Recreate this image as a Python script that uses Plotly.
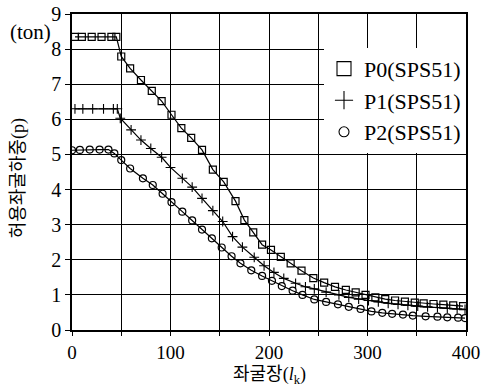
import plotly.graph_objects as go

# ---- data ----
p0_x = [3, 10, 20, 30, 40, 45, 50, 59, 70, 81, 91, 101, 111, 121, 132, 143, 154, 166, 175, 184, 193, 202,
        212, 222, 233, 245, 256, 267, 278, 288, 298, 308, 318, 328, 338, 348, 357, 367, 377, 387, 397]
p0_y = [8.35, 8.35, 8.35, 8.35, 8.35, 8.35, 7.79, 7.45, 7.12, 6.81, 6.52, 6.13, 5.75, 5.47, 5.13, 4.57,
        4.22, 3.67, 3.13, 2.78, 2.43, 2.28, 2.08, 1.90, 1.69, 1.48, 1.35, 1.23, 1.14, 1.07, 1.00, 0.93,
        0.88, 0.84, 0.81, 0.78, 0.76, 0.74, 0.72, 0.70, 0.68]

p1_x = [3, 11, 21, 32, 42, 46, 49, 60, 70, 80, 91, 100, 112, 122, 132, 143, 153, 163, 173, 185, 195, 205,
        215, 227, 237, 246, 258, 271, 281, 291, 301, 311, 321, 331, 341, 351, 361, 371, 381, 391, 399]
p1_y = [6.30, 6.30, 6.30, 6.30, 6.30, 6.30, 6.03, 5.70, 5.41, 5.17, 4.92, 4.63, 4.32, 4.07, 3.75, 3.40,
        3.09, 2.66, 2.36, 2.07, 1.83, 1.64, 1.47, 1.33, 1.23, 1.17, 1.08, 1.00, 0.93, 0.88, 0.84, 0.80,
        0.76, 0.73, 0.70, 0.68, 0.66, 0.64, 0.62, 0.60, 0.59]

p2_x = [0, 8, 18, 28, 37, 43, 50, 59, 72, 82, 92, 101, 112, 122, 132, 142, 152, 162, 171, 182, 193, 203,
        213, 224, 234, 246, 258, 270, 281, 293, 304, 315, 325, 336, 346, 359, 371, 381, 392, 399]
p2_y = [5.12, 5.13, 5.14, 5.14, 5.14, 5.03, 4.84, 4.60, 4.32, 4.13, 3.88, 3.64, 3.37, 3.12, 2.86, 2.61,
        2.35, 2.10, 1.90, 1.70, 1.54, 1.40, 1.25, 1.12, 1.00, 0.87, 0.80, 0.73, 0.66, 0.60, 0.53, 0.49,
        0.46, 0.44, 0.41, 0.39, 0.38, 0.36, 0.35, 0.34]

series_names = ["P0(SPS51)", "P1(SPS51)", "P2(SPS51)"]
x_tick_vals = [0, 100, 200, 300, 400]
y_tick_vals = [0, 1, 2, 3, 4, 5, 6, 7, 8, 9]

SERIF = "Liberation Serif, Noto Sans CJK KR, serif"

markers = [
    dict(symbol="square-open", size=7, color="black", line=dict(width=1.2, color="black")),
    dict(symbol="cross-thin-open", size=7, color="black", line=dict(width=1.1, color="black")),
    dict(symbol="circle-open", size=7, color="black", line=dict(width=1.2, color="black")),
]
legend_markers = [
    dict(symbol="square-open", size=14, color="black", line=dict(width=1.1, color="black")),
    dict(symbol="cross-thin-open", size=13, color="black", line=dict(width=1.1, color="black")),
    dict(symbol="circle-open", size=10, color="black", line=dict(width=1.1, color="black")),
]

fig = go.Figure()
for xs, ys, mk in zip([p0_x, p1_x, p2_x], [p0_y, p1_y, p2_y], markers):
    fig.add_trace(go.Scatter(x=xs, y=ys, mode="lines+markers", showlegend=False,
                             line=dict(color="black", width=1.2), marker=mk))
for name, mk in zip(series_names, legend_markers):
    fig.add_trace(go.Scatter(x=[None], y=[None], mode="markers", name=name, marker=mk))

fig.update_layout(
    width=481, height=386,
    margin=dict(l=72, r=15, t=14, b=56),
    paper_bgcolor="white", plot_bgcolor="white",
    font=dict(family=SERIF, color="black", size=19),
    showlegend=True,
    legend=dict(x=1, xanchor="right", y=0.893, yanchor="top",
                bgcolor="white", borderwidth=0,
                font=dict(family=SERIF, size=22, color="black"),
                itemwidth=30, tracegroupgap=0),
    annotations=[
        dict(text="(ton)", x=-0.106, y=0.943, xref="paper", yref="paper", showarrow=False,
             xanchor="center", yanchor="middle", font=dict(family=SERIF, size=21)),
        dict(text="허용좌굴하중(p)", x=-0.137, y=0.48, xref="paper", yref="paper", showarrow=False,
             xanchor="center", yanchor="middle",
             textangle=-90, font=dict(family=SERIF, size=18)),
        dict(text="좌굴장(<i>l</i><sub>k</sub>)", x=0.5, y=-0.145, xref="paper", yref="paper",
             xanchor="center", yanchor="middle",
             showarrow=False, font=dict(family=SERIF, size=18)),
    ],
)
fig.update_xaxes(range=[0, 400], tickvals=x_tick_vals,
                 showgrid=True, gridcolor="black", gridwidth=1,
                 minor=dict(dtick=50, tick0=0, showgrid=True, gridcolor="black", gridwidth=1,
                            ticks="outside", ticklen=4, tickcolor="black"),
                 showline=True, linecolor="black", linewidth=1.5, mirror=True,
                 ticks="outside", ticklen=4, tickcolor="black",
                 tickfont=dict(family=SERIF, size=19), zeroline=False, automargin=False,
                 ticklabeloverflow="allow")
fig.update_yaxes(range=[0, 9], tickvals=y_tick_vals,
                 showgrid=True, gridcolor="black", gridwidth=1,
                 showline=True, linecolor="black", linewidth=1.5, mirror=True,
                 ticks="outside", ticklen=5, tickcolor="black",
                 tickfont=dict(family=SERIF, size=20), zeroline=False, automargin=False,
                 ticklabeloverflow="allow")

fig.write_html("out.html", config={"displayModeBar": False},
               post_script="document.body.style.margin='0';document.body.style.padding='0';")
